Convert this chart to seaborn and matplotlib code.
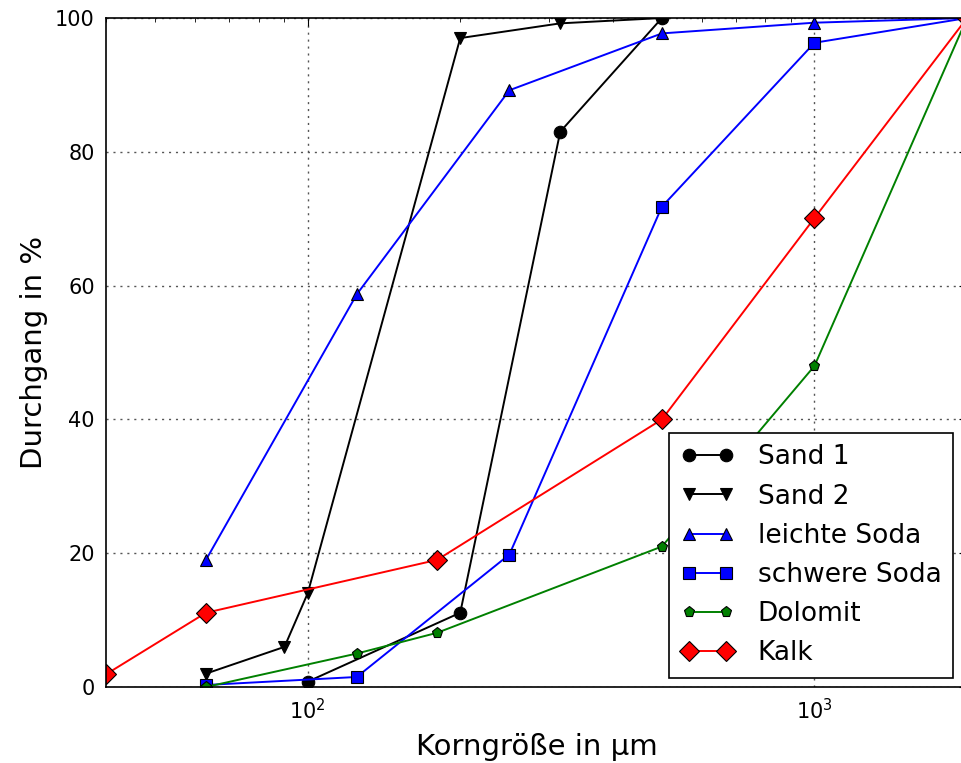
import matplotlib
matplotlib.use('Agg')
import matplotlib.pyplot as plt
import seaborn as sns
import pandas as pd
import numpy as np

# Sieve data (grain size in um, passing in %)
sand1_x = [100, 200, 315, 500]
sand1_y = [0.8, 11.1, 83, 100]
sand2_x = [63, 90, 100, 200, 315, 500]
sand2_y = [2, 6, 14, 97, 99.2, 100]
lsoda_x = [63, 125, 250, 500, 1000, 2000]
lsoda_y = [19, 58.7, 89.2, 97.7, 99.3, 100]
ssoda_x = [63, 125, 250, 500, 1000, 2000]
ssoda_y = [0.3, 1.5, 19.8, 71.8, 96.3, 100]
dolo_x = [63, 125, 180, 500, 1000, 2000]
dolo_y = [0, 5, 8.1, 21, 48, 100]
kalk_x = [40, 63, 180, 500, 1000, 2000]
kalk_y = [1.9, 11.1, 19, 40, 70.1, 100]

series = [
    ('Sand 1', sand1_x, sand1_y, 'black', 'o', 9),
    ('Sand 2', sand2_x, sand2_y, 'black', 'v', 9),
    ('leichte Soda', lsoda_x, lsoda_y, 'blue', '^', 9),
    ('schwere Soda', ssoda_x, ssoda_y, 'blue', 's', 9),
    ('Dolomit', dolo_x, dolo_y, 'green', 'p', 8),
    ('Kalk', kalk_x, kalk_y, 'red', 'D', 10),
]

sns.set_style('white')
plt.rcParams['font.family'] = ['DejaVu Sans']
plt.rcParams['text.color'] = 'black'
plt.rcParams['axes.labelcolor'] = 'black'
plt.rcParams['xtick.color'] = 'black'
plt.rcParams['ytick.color'] = 'black'

fig = plt.figure(figsize=(9.61, 7.63), dpi=100)
ax = fig.add_axes([0.1103, 0.0996, 0.896, 0.8768])

for name, xs, ys, col, mk, ms in series:
    df = pd.DataFrame({'x': xs, 'y': ys})
    sns.lineplot(data=df, x='x', y='y', ax=ax, color=col, marker=mk, markersize=ms,
                 markeredgecolor='black', markeredgewidth=0.8, linewidth=1.4,
                 label=name, sort=False)

ax.set_xscale('log')
ax.set_xlim(40, 2000)
ax.set_ylim(0, 100)
ax.set_yticks([0, 20, 40, 60, 80, 100])
ax.grid(True, which='major', linestyle=(0, (1.5, 3.5)), color='#555555', linewidth=1.0)
ax.tick_params(which='both', direction='in', top=True, right=True, labelsize=15)
ax.tick_params(which='major', length=6, pad=8)
ax.tick_params(which='minor', length=3)
for s in ax.spines.values():
    s.set_color('black')
    s.set_linewidth(1.2)

ax.set_xlabel('Korngröße in µm', fontsize=21, labelpad=7)
ax.set_ylabel('Durchgang in %', fontsize=21, labelpad=5)

leg = ax.legend(loc='lower right', bbox_to_anchor=(0.992, 0.111), bbox_transform=fig.transFigure,
                borderaxespad=0, fontsize=19, numpoints=2, fancybox=False, framealpha=1,
                handlelength=2.0, handletextpad=0.9, labelspacing=0.5, borderpad=0.45)
leg.get_frame().set_edgecolor('black')
leg.get_frame().set_linewidth(1.2)

fig.savefig('out.png', dpi=100)
